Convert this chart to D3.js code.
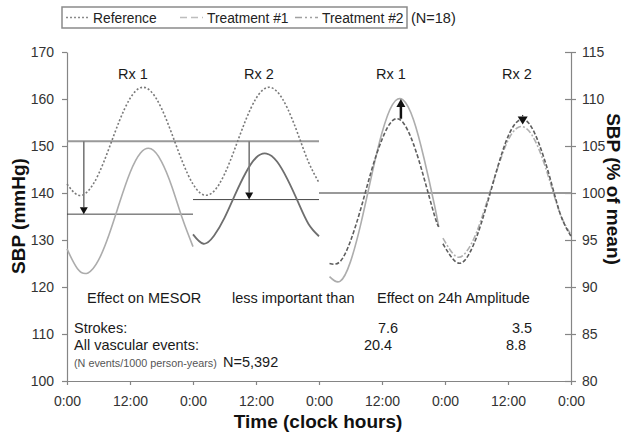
<!DOCTYPE html>
<html>
<head>
<meta charset="utf-8">
<script src="https://cdn.jsdelivr.net/npm/d3@7"></script>
<style>
body { margin: 0; background: #fff; }
svg { font-family: "Liberation Sans", Arial, sans-serif; }
</style>
</head>
<body>
<div id="chart"></div>
<script>
// axis ticks
var tickHours = [0, 12, 24, 36, 48, 60, 72, 84, 96];
var tickLabels = ["0:00", "12:00", "0:00", "12:00", "0:00", "12:00", "0:00", "12:00", "0:00"];
var mmHgTicks = [100, 110, 120, 130, 140, 150, 160, 170];
var pctTicks = [80, 85, 90, 95, 100, 105, 110, 115];

// left half: SBP in mmHg
var refHours = [0, 2, 4, 6, 8, 10, 12, 14, 16, 18, 20, 22, 24, 26, 28, 30, 32, 34, 36, 38, 40, 42, 44, 46, 48];
var refMmHg = [141.9, 139.6, 140.4, 144.0, 149.5, 155.4, 160.1, 162.4, 161.6, 158.0, 152.5, 146.6, 141.9,
               139.6, 140.4, 144.0, 149.5, 155.4, 160.1, 162.4, 161.6, 158.0, 152.5, 146.6, 142.2];
var rx1Hours = [0, 2, 4, 6, 8, 10, 12, 14, 16, 18, 20, 22, 24];
var rx1MmHg = [128.1, 123.9, 123.0, 125.7, 131.1, 137.9, 144.3, 148.5, 149.4, 146.7, 141.3, 134.5, 128.6];
var rx2Hours = [24, 26, 28, 30, 32, 34, 36, 38, 40, 42, 44, 46, 48];
var rx2MmHg = [131.2, 129.2, 130.9, 134.7, 139.6, 144.2, 147.5, 148.4, 146.7, 142.9, 138.1, 133.4, 130.8];
var mesorRef = 151;
var mesorRx1 = 135.5;
var mesorRx2 = 138.6;
var arrowsMmHg = [{ hour: 3.2, from: 151, to: 135.5 }, { hour: 34.7, from: 151, to: 138.6 }];

// right half: SBP in % of mean
var day3Hours = [50, 52, 54, 56, 58, 60, 62, 64, 66, 68, 70, 70.8];
var refDay3 = [92.5, 92.7, 94.9, 98.4, 102.4, 105.7, 107.7, 107.5, 105.2, 101.6, 97.6, 96.4];
var rx1Day3 = [91.1, 90.6, 92.7, 96.8, 101.8, 106.4, 109.4, 109.9, 107.8, 103.7, 98.7, 96.4];
var day4Hours = [71.6, 74, 76, 78, 80, 82, 84, 86, 88, 90, 92, 94, 96];
var refDay4 = [94.6, 92.7, 93.0, 95.3, 98.8, 102.7, 106.0, 107.7, 107.4, 105.1, 101.6, 97.7, 95.4];
var rx2Day4 = [95.2, 93.3, 93.7, 95.8, 99.1, 102.6, 105.6, 107.0, 106.6, 104.5, 101.2, 97.7, 95.6];
var mesorPct = 100;
var arrowsPct = [{ hour: 63.6, from: 107.9, to: 110.0 }, { hour: 86.8, from: 108.3, to: 107.3 }];

var legendItems = ["Reference", "Treatment #1", "Treatment #2"];

var svg = d3.select("#chart").append("svg")
            .attr("width", 626)
            .attr("height", 434);

var x = d3.scaleLinear().domain([0, 96]).range([67, 571]);
var yL = d3.scaleLinear().domain([100, 170]).range([381, 52]);
var yR = d3.scaleLinear().domain([80, 115]).range([381, 52]);

var axisColor = "#858585";

function styleAxis(g) {
    g.attr("font-family", null).attr("font-size", 14);
    g.select(".domain").attr("stroke", axisColor).attr("stroke-width", 1.2);
    g.selectAll(".tick line").attr("stroke", axisColor).attr("stroke-width", 1.2);
    g.selectAll(".tick text").attr("fill", "#333");
}

svg.append("g")
   .attr("transform", "translate(0,381)")
   .call(d3.axisBottom(x).tickValues(tickHours).tickSize(4).tickPadding(11).tickSizeOuter(0)
           .tickFormat((d, i) => tickLabels[i]))
   .call(styleAxis);

svg.append("g")
   .attr("transform", "translate(67,0)")
   .call(d3.axisLeft(yL).tickValues(mmHgTicks).tickSize(5).tickPadding(8).tickSizeOuter(0))
   .call(styleAxis);

var rightAxis = svg.append("g")
   .attr("transform", "translate(571,0)")
   .call(d3.axisRight(yR).tickValues(pctTicks).tickSize(5).tickPadding(6).tickSizeOuter(0))
   .call(styleAxis);
rightAxis.selectAll(".tick").append("line")
   .attr("x2", -6).attr("stroke", axisColor).attr("stroke-width", 1.2);

// MESOR reference lines
svg.append("line")
   .attr("x1", x(0)).attr("x2", x(48))
   .attr("y1", yL(mesorRef)).attr("y2", yL(mesorRef))
   .attr("stroke", "#999").attr("stroke-width", 2);
svg.append("line")
   .attr("x1", x(0)).attr("x2", x(24))
   .attr("y1", yL(mesorRx1)).attr("y2", yL(mesorRx1))
   .attr("stroke", "#444").attr("stroke-width", 1);
svg.append("line")
   .attr("x1", x(24)).attr("x2", x(48))
   .attr("y1", yL(mesorRx2)).attr("y2", yL(mesorRx2))
   .attr("stroke", "#444").attr("stroke-width", 1);
svg.append("line")
   .attr("x1", x(48)).attr("x2", x(96))
   .attr("y1", yR(mesorPct)).attr("y2", yR(mesorPct))
   .attr("stroke", "#999").attr("stroke-width", 2);

function drawCurve(hours, values, y, color, width, dash) {
    var pts = hours.map((h, i) => [h, values[i]]);
    var line = d3.line()
                 .x(d => x(d[0]))
                 .y(d => y(d[1]))
                 .curve(d3.curveNatural);
    svg.append("path")
       .datum(pts)
       .attr("fill", "none")
       .attr("stroke", color)
       .attr("stroke-width", width)
       .attr("stroke-dasharray", dash)
       .attr("d", line);
}

// left half curves
drawCurve(refHours, refMmHg, yL, "#7a7a7a", 1.6, "2,2");
drawCurve(rx1Hours, rx1MmHg, yL, "#acacac", 1.6, null);
drawCurve(rx2Hours, rx2MmHg, yL, "#6e6e6e", 1.8, null);

// right half curves
drawCurve(day3Hours, rx1Day3, yR, "#adadad", 1.6, null);
drawCurve(day3Hours, refDay3, yR, "#5e5e5e", 1.6, "4,2");
drawCurve(day4Hours, rx2Day4, yR, "#b0b0b0", 1.6, "6,2,2,2");
drawCurve(day4Hours, refDay4, yR, "#5e5e5e", 1.6, "4,2");

function drawArrow(a, y, shaftColor, shaftWidth, headW, headH) {
    var px = x(a.hour), y0 = y(a.from), y1 = y(a.to);
    var dir = y1 > y0 ? 1 : -1;
    svg.append("line")
       .attr("x1", px).attr("x2", px)
       .attr("y1", y0).attr("y2", y1 - dir * headH)
       .attr("stroke", shaftColor).attr("stroke-width", shaftWidth);
    svg.append("path")
       .attr("d", "M" + (px - headW / 2) + "," + (y1 - dir * headH) +
                  "L" + (px + headW / 2) + "," + (y1 - dir * headH) +
                  "L" + px + "," + y1 + "Z")
       .attr("fill", "#111");
}

arrowsMmHg.forEach(a => drawArrow(a, yL, "#7a7a7a", 1.6, 8, 7));
drawArrow(arrowsPct[0], yR, "#111", 2.5, 9, 8);
drawArrow(arrowsPct[1], yR, "#111", 1, 10, 8);

// annotations
var annot = svg.append("g").attr("font-size", 14.5).attr("fill", "#1a1a1a");
[["Rx 1", 133], ["Rx 2", 259], ["Rx 1", 391], ["Rx 2", 517]].forEach(d => {
    annot.append("text").attr("x", d[1]).attr("y", 79).attr("text-anchor", "middle").text(d[0]);
});
annot.append("text").attr("x", 87).attr("y", 303).text("Effect on MESOR");
annot.append("text").attr("x", 232).attr("y", 303).text("less important than");
annot.append("text").attr("x", 377).attr("y", 303).text("Effect on 24h Amplitude");
annot.append("text").attr("x", 74).attr("y", 333).text("Strokes:");
annot.append("text").attr("x", 74).attr("y", 350).text("All vascular events:");
annot.append("text").attr("x", 388).attr("y", 333).attr("text-anchor", "middle").text("7.6");
annot.append("text").attr("x", 522).attr("y", 333).attr("text-anchor", "middle").text("3.5");
annot.append("text").attr("x", 378).attr("y", 350).attr("text-anchor", "middle").text("20.4");
annot.append("text").attr("x", 516).attr("y", 350).attr("text-anchor", "middle").text("8.8");
annot.append("text").attr("x", 74).attr("y", 367).attr("font-size", 10.8).attr("fill", "#555")
     .text("(N events/1000 person-years)");
annot.append("text").attr("x", 223).attr("y", 367).text("N=5,392");

// axis titles
svg.append("text")
   .attr("transform", "translate(25,216) rotate(-90)")
   .attr("text-anchor", "middle").attr("font-weight", "bold").attr("font-size", 19)
   .attr("fill", "#111").text("SBP (mmHg)");
svg.append("text")
   .attr("transform", "translate(607,189) rotate(90)")
   .attr("text-anchor", "middle").attr("font-weight", "bold").attr("font-size", 19)
   .attr("fill", "#111").text("SBP (% of mean)");
svg.append("text")
   .attr("x", 318).attr("y", 428)
   .attr("text-anchor", "middle").attr("font-weight", "bold").attr("font-size", 19)
   .attr("fill", "#111").text("Time (clock hours)");

// legend
var legend = svg.append("g").attr("font-size", 13.8).attr("fill", "#222");
legend.append("rect")
      .attr("x", 62).attr("y", 7).attr("width", 345).attr("height", 21)
      .attr("fill", "#fff").attr("stroke", "#8a8a8a").attr("stroke-width", 1.5);
var samples = [
    { x1: 66, x2: 88, tx: 93, color: "#8a8a8a", dash: "2,2" },
    { x1: 180, x2: 203, tx: 207, color: "#bdbdbd", dash: "7,4" },
    { x1: 295, x2: 318, tx: 322, color: "#a0a0a0", dash: "7,3,2,3,2,3" }
];
legendItems.forEach((name, i) => {
    var s = samples[i];
    legend.append("line")
          .attr("x1", s.x1).attr("x2", s.x2).attr("y1", 17.5).attr("y2", 17.5)
          .attr("stroke", s.color).attr("stroke-width", 1.6).attr("stroke-dasharray", s.dash);
    legend.append("text").attr("x", s.tx).attr("y", 23).text(name);
});
legend.append("text").attr("x", 411).attr("y", 23).attr("font-size", 14.5).text("(N=18)");
</script>
</body>
</html>
